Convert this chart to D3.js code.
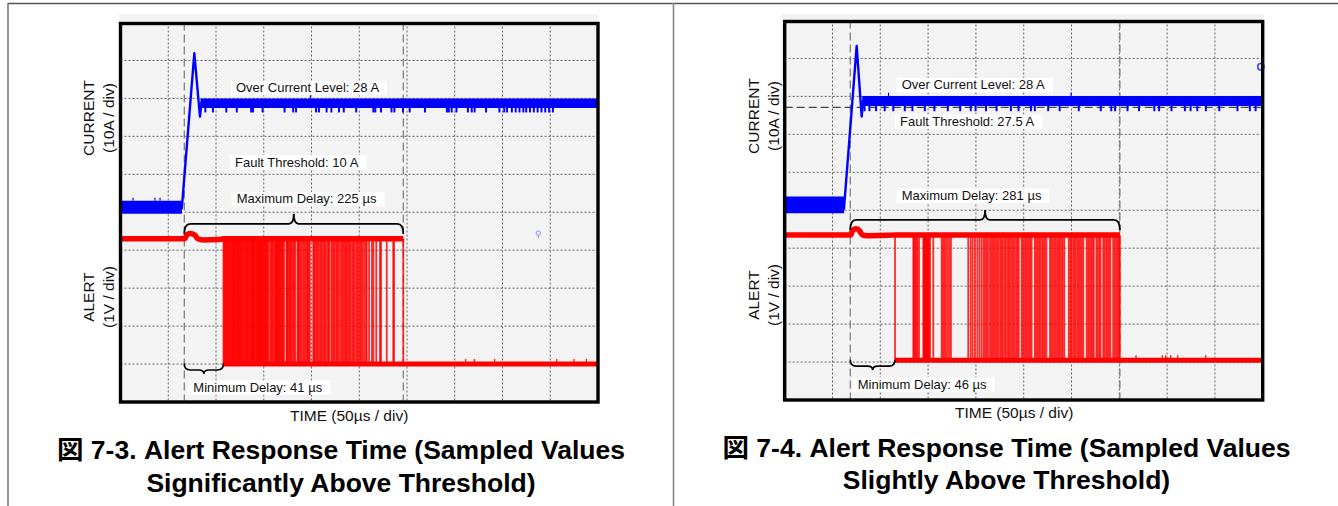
<!DOCTYPE html>
<html><head><meta charset="utf-8">
<script src="https://cdn.jsdelivr.net/npm/d3@7"></script>
<style>
body{margin:0;background:#fff;}
svg{display:block;font-family:"Liberation Sans",Arial,"Noto Sans CJK JP",sans-serif;}
</style>
</head><body>
<svg id="c" width="1338" height="506"></svg>
<script>
// ---------------- DATA ----------------
const captionLeft = ["図 7-3. Alert Response Time (Sampled Values", "Significantly Above Threshold)"];
const captionRight = ["図 7-4. Alert Response Time (Sampled Values", "Slightly Above Threshold)"];
const annotLeft = ["Over Current Level: 28 A", "Fault Threshold: 10 A", "Maximum Delay: 225 µs", "Minimum Delay: 41 µs"];
const annotRight = ["Over Current Level: 28 A", "Fault Threshold: 27.5 A", "Maximum Delay: 281 µs", "Minimum Delay: 46 µs"];
const yLabelCurrent = ["CURRENT", "(10A / div)"];
const yLabelAlert = ["ALERT", "(1V / div)"];
const xLabel = "TIME (50µs / div)";
const gridDivisions = [1, 2, 3, 4, 5, 6, 7, 8, 9];

// current trace, time in µs, current in A
const leftCurT = [-66.8, -2.6, 10.5, 16.4, 18.0, 433.2];
const leftCurA = [0.3, 0.0, 40.9, 24.2, 27.9, 27.9];
const leftPreBandT = [-66.8, -2.4], leftPreBandA = [-1.4, 2.0];
const leftPostBandT = [17.0, 433.2], leftPostBandA = [26.5, 29.0];
const leftCurSpikesDown = [22, 30, 44, 55, 70, 72, 82, 105, 114, 117, 138, 141, 149, 154, 162, 167, 180, 198, 200, 206, 217, 220, 229, 236, 252, 275, 277, 280, 285, 297, 301, 304, 316, 330, 335, 338, 343, 347, 351, 355, 358, 362, 366, 370, 374, 378, 382, 386];
const leftCurSpikesUp = [-53.7, -30.7, -25.4, 132];
const leftSpikeLowA = 25.3, leftSpikeHighA = 29.9, leftPreSpikeA = 2.8;

const rightCurT = [-68.6, -6.6, 6.7, 11.9, 13.5, 431.4];
const rightCurA = [0.0, -1.0, 41.9, 23.3, 27.4, 27.4];
const rightPreBandT = [-68.6, -6.4], rightPreBandA = [-2.2, 2.2];
const rightPostBandT = [12.5, 431.4], rightPostBandA = [26.1, 28.7];
const rightCurSpikesDown = [15, 20, 27, 36, 45, 57, 65, 78, 88, 102, 115, 126, 131, 142, 153, 168, 176, 189, 193, 207, 219, 239, 262, 273, 277, 290, 302, 318, 323, 336, 350, 356, 363, 372, 386, 405, 418, 424];
const rightCurSpikesUp = [40, 231];
const rightSpikeLowA = 24.7, rightSpikeHighA = 29.6;
const rightThresholdA = 25.7;

// ALERT trace, volts
const alertHighV = 3.3, alertLowV = 0;
const leftAlertHighT = [-66.8, 0.5, 2.5, 6.0, 11.0, 14.0, 20.0, 36.0, 41.0];
const leftAlertHighV = [3.3, 3.3, 3.4, 3.44, 3.4, 3.3, 3.27, 3.28, 3.3];
const rightAlertHighT = [-68.6, 0.5, 2.5, 6.0, 10.0, 12.5, 18.0, 40.0, 46.8];
const rightAlertHighV = [3.3, 3.3, 3.42, 3.46, 3.4, 3.3, 3.28, 3.29, 3.3];
const leftAlertEdges = [41, 41.8, 42.6, 43.5, 44.1, 45, 45.6, 46.5, 47.5, 48.2, 49, 50.2, 51, 51.6, 52.4, 53.2, 53.9, 55, 55.7, 56.3, 57.1, 57.9, 58.7, 59.5, 60.2, 61, 62.4, 63.2, 64, 64.8, 66, 66.6, 67.1, 68.5, 69.3, 70, 70.8, 71.5, 72, 72.7, 73.4, 74.1, 75.3, 76.2, 76.8, 77.4, 78, 78.6, 79.2, 79.9, 80.6, 81.3, 82.2, 83, 83.8, 84.6, 85.5, 86.5, 87.2, 88.1, 89.9, 91.2, 92.1, 93, 94.8, 95.4, 96.1, 96.8, 97.5, 98.4, 99.2, 100, 100.7, 101.6, 102.5, 103.4, 104.4, 106.9, 107.6, 108.3, 109.4, 110.5, 111.5, 112.6, 114, 115.1, 116.2, 118.5, 119.3, 120.1, 121.4, 122.7, 124.3, 125.6, 126.9, 128.4, 129.3, 130.2, 131.5, 135, 135.9, 136.8, 138.3, 139.4, 140.6, 142.1, 143.3, 144.5, 146, 147.2, 148.3, 150.1, 150.9, 151.7, 153.9, 155.2, 156.4, 157.6, 159.1, 160.2, 161.3, 163, 164.6, 165.7, 166.8, 168.2, 169.4, 170.5, 172, 173.2, 174.4, 176.1, 177.2, 178.3, 180, 181.3, 182.6, 184.1, 185.4, 186.7, 188.3, 190.2, 191, 193.5, 196.5, 198, 201, 204.9, 206, 212, 218.8, 219.6, 229.3];
const rightAlertEdges = [46.8, 65.9, 66.8, 68, 69.1, 70.2, 71.9, 76.4, 77, 77.6, 78.2, 78.8, 79.4, 80, 80.6, 81.2, 81.8, 82.4, 83.4, 86.8, 95.6, 97, 98.5, 100, 101.8, 103.5, 105.3, 123.4, 126, 128, 130.4, 133, 135.2, 137.4, 139.5, 141, 142.6, 144, 146.1, 147.5, 149, 150.4, 152.1, 153.5, 155, 156.8, 158.2, 159.6, 161.3, 162.7, 164.4, 165.8, 167.1, 168.9, 170.3, 171.8, 173.4, 174.9, 176.2, 179.2, 180.6, 182.3, 183.7, 185.1, 186.8, 188.2, 189.7, 193.1, 194.5, 196.2, 197.6, 199, 200.7, 202.1, 203.6, 205.2, 208.9, 210.3, 211.8, 213.4, 214.8, 216.3, 217.9, 219.2, 220.8, 222.3, 223.9, 228.6, 230.1, 231.5, 233.2, 234.6, 236, 237.7, 239.1, 240.6, 242.2, 243.8, 247.3, 248.8, 250.4, 251.9, 253.5, 254.7, 257.4, 258.9, 260.5, 261.8, 264.6, 266, 267.7, 269.1, 270.6, 272.1, 275, 276.4, 278, 279.5, 281, 282];
const leftAlertLowSpikes = [294.7, 303.7, 325, 390, 408, 421];
const rightAlertLowSpikes = [298.9, 326.4, 329.9, 335.1, 342.5, 371.8];
const alertSpikeV = 0.13;

// scope markers (µs, value)
const leftMarker = {t: 370.7, v: 3.45};
const rightMarker = {t: 429.5, a: 36.4};

// ---------------- LAYOUT ----------------
const svg = d3.select("#c");
const RED = "#ff0000", BLUE = "#0000ff";

// outer frame
svg.append("line").attr("x1", 8).attr("x2", 1338).attr("y1", 3.5).attr("y2", 3.5).attr("stroke", "#555").attr("stroke-width", 1.6);
svg.append("line").attr("x1", 8).attr("x2", 8).attr("y1", 3).attr("y2", 506).attr("stroke", "#777").attr("stroke-width", 1.6);
svg.append("line").attr("x1", 673.5).attr("x2", 673.5).attr("y1", 3).attr("y2", 506).attr("stroke", "#888").attr("stroke-width", 1.6);

function drawPanel(cfg) {
  const g = svg.append("g");
  const x = d3.scaleLinear().domain(cfg.tDomain).range([cfg.x0, cfg.x1]);
  const yA = d3.scaleLinear().domain(cfg.aDomain).range([cfg.y1, cfg.y0]);
  const yV = d3.scaleLinear().domain(cfg.vDomain).range([cfg.y1, cfg.y0]);
  const divX = d3.scaleLinear().domain([0, 10]).range([cfg.x0, cfg.x1]);
  const divY = d3.scaleLinear().domain([0, 10]).range([cfg.y1, cfg.y0]);

  // background
  g.append("rect").attr("x", cfg.bg[0]).attr("y", cfg.bg[1]).attr("width", cfg.bg[2] - cfg.bg[0]).attr("height", cfg.bg[3] - cfg.bg[1]).attr("fill", "#f3f3f3");

  // grid
  const grid = g.append("g").attr("stroke", "#666").attr("stroke-width", 1).attr("stroke-dasharray", "2,2");
  grid.selectAll(".gv").data(gridDivisions).join("line")
    .attr("x1", d => divX(d)).attr("x2", d => divX(d)).attr("y1", cfg.y0).attr("y2", cfg.y1);
  grid.selectAll(".gh").data(gridDivisions).join("line")
    .attr("y1", d => divY(d)).attr("y2", d => divY(d)).attr("x1", cfg.x0).attr("x2", cfg.x1);

  // trigger / max-delay dashed markers
  const lastEdge = cfg.edges[cfg.edges.length - 1];
  const firstEdge = cfg.edges[0];
  g.selectAll(".mk").data([0, lastEdge]).join("line")
    .attr("x1", d => x(d)).attr("x2", d => x(d)).attr("y1", cfg.y0).attr("y2", cfg.y1)
    .attr("stroke", "#777").attr("stroke-width", 1.2).attr("stroke-dasharray", "8,4");

  if (cfg.thresholdA !== undefined) {
    g.append("line").attr("x1", cfg.x0).attr("x2", cfg.x1).attr("y1", yA(cfg.thresholdA)).attr("y2", yA(cfg.thresholdA))
      .attr("stroke", "#444").attr("stroke-width", 1.2).attr("stroke-dasharray", "8,4");
  }

  // ---- current trace ----
  const area = d3.area().x(d => x(d[0])).y0(d => yA(d[1])).y1(d => yA(d[2]));
  g.append("path").datum([[cfg.preBandT[0], cfg.preBandA[0], cfg.preBandA[1]], [cfg.preBandT[1], cfg.preBandA[0], cfg.preBandA[1]]])
    .attr("d", area).attr("fill", BLUE);
  g.append("path").datum([[cfg.postBandT[0], cfg.postBandA[0], cfg.postBandA[1]], [cfg.postBandT[1], cfg.postBandA[0], cfg.postBandA[1]]])
    .attr("d", area).attr("fill", BLUE);
  g.selectAll(".sd").data(cfg.spikesDown).join("line")
    .attr("x1", d => x(d)).attr("x2", d => x(d)).attr("y1", yA(cfg.postBandA[0])).attr("y2", yA(cfg.spikeLowA))
    .attr("stroke", BLUE).attr("stroke-width", 2);
  g.selectAll(".su").data(cfg.spikesUp).join("line")
    .attr("x1", d => x(d)).attr("x2", d => x(d))
    .attr("y1", d => d < 0 ? yA(cfg.preBandA[1]) : yA(cfg.postBandA[1]))
    .attr("y2", d => d < 0 ? yA(cfg.preSpikeA) : yA(cfg.spikeHighA))
    .attr("stroke", BLUE).attr("stroke-width", 1.2);
  const line = d3.line().x(d => x(d[0])).y(d => yA(d[1]));
  g.append("path").datum(d3.zip(cfg.curT, cfg.curA)).attr("d", line)
    .attr("fill", "none").attr("stroke", BLUE).attr("stroke-width", 2.4).attr("stroke-linejoin", "round");

  // ---- alert trace ----
  g.selectAll(".ed").data(cfg.edges).join("line")
    .attr("x1", d => x(d)).attr("x2", d => x(d)).attr("y1", yV(alertHighV)).attr("y2", yV(alertLowV))
    .attr("stroke", RED).attr("stroke-width", 1.8).attr("stroke-opacity", 0.82);
  const vLine = d3.line().x(d => x(d[0])).y(d => yV(d[1])).curve(d3.curveMonotoneX);
  const highPts = d3.zip(cfg.highT, cfg.highV).concat([[lastEdge, alertHighV]]);
  g.append("path").datum(highPts).attr("d", vLine).attr("fill", "none").attr("stroke", RED).attr("stroke-width", 5.5);
  g.append("path").datum([[firstEdge, alertLowV], [cfg.tDomain[1], alertLowV]]).attr("d", vLine)
    .attr("fill", "none").attr("stroke", RED).attr("stroke-width", 5);
  g.selectAll(".ls").data(cfg.lowSpikes).join("line")
    .attr("x1", d => x(d)).attr("x2", d => x(d)).attr("y1", yV(alertLowV)).attr("y2", yV(alertLowV + alertSpikeV))
    .attr("stroke", RED).attr("stroke-width", 1.2);

  // markers
  if (cfg.markerV) {
    g.append("circle").attr("cx", x(cfg.markerV.t)).attr("cy", yV(cfg.markerV.v)).attr("r", 2.2)
      .attr("fill", "none").attr("stroke", "#8c8cff").attr("stroke-width", 1);
    g.append("line").attr("x1", x(cfg.markerV.t)).attr("x2", x(cfg.markerV.t)).attr("y1", yV(cfg.markerV.v) + 2).attr("y2", yV(cfg.markerV.v) + 5)
      .attr("stroke", "#8c8cff").attr("stroke-width", 1);
  }
  if (cfg.markerA) {
    g.append("circle").attr("cx", x(cfg.markerA.t)).attr("cy", yA(cfg.markerA.a)).attr("r", 3.2)
      .attr("fill", "none").attr("stroke", "#3a3aff").attr("stroke-width", 1.5);
  }

  // plot border
  g.append("rect").attr("x", cfg.x0).attr("y", cfg.y0 + 1).attr("width", cfg.x1 - cfg.x0).attr("height", cfg.y1 - cfg.y0 - 1)
    .attr("fill", "none").attr("stroke", "#000").attr("stroke-width", 3.4);

  // braces
  function brace(xa, xb, yEnd, yLine, yTip) {
    const xm = (xa + xb) / 2, r = 6, r2 = 5;
    return `M${xa},${yEnd} Q${xa},${yLine} ${xa + r},${yLine} L${xm - r2},${yLine} Q${xm},${yLine} ${xm},${yTip} ` +
           `Q${xm},${yLine} ${xm + r2},${yLine} L${xb - r},${yLine} Q${xb},${yLine} ${xb},${yEnd}`;
  }
  const yHi = yV(alertHighV), yLo = yV(alertLowV);
  g.append("path").attr("d", brace(x(0), x(lastEdge), yHi - 5, yHi - 15, yHi - 25))
    .attr("fill", "none").attr("stroke", "#000").attr("stroke-width", 1.8);
  g.append("path").attr("d", brace(x(0), x(firstEdge), yLo - 0.5, yLo + 6, yLo + 10))
    .attr("fill", "none").attr("stroke", "#000").attr("stroke-width", 1.6);

  // annotations with white boxes
  cfg.annot.forEach((txt, i) => {
    const p = cfg.annotPos[i];
    const t = g.append("text").attr("x", p[0]).attr("y", p[1]).attr("font-size", 13).attr("fill", "#111").text(txt);
    const w = t.node().getComputedTextLength();
    g.insert("rect", () => t.node()).attr("x", p[0] - 5).attr("y", p[1] - 11.4).attr("width", w + 13).attr("height", 14.4).attr("fill", "#fff");
  });

  // axis titles
  const ya = cfg.yLabelX;
  [[yLabelCurrent, cfg.curLabelY], [yLabelAlert, cfg.alertLabelY]].forEach(([lbl, cy]) => {
    g.append("text").attr("transform", `translate(${ya[0]},${cy}) rotate(-90)`).attr("text-anchor", "middle")
      .attr("font-size", 15.5).attr("fill", "#111").text(lbl[0]);
    g.append("text").attr("transform", `translate(${ya[1]},${cy}) rotate(-90)`).attr("text-anchor", "middle")
      .attr("font-size", 15.5).attr("fill", "#111").text(lbl[1]);
  });
  g.append("text").attr("x", cfg.xLabelPos[0]).attr("y", cfg.xLabelPos[1]).attr("font-size", 15.5).attr("fill", "#111").text(xLabel);

  // caption
  cfg.caption.forEach((c, i) => {
    g.append("text").attr("x", cfg.capX).attr("y", cfg.capY[i]).attr("text-anchor", "middle")
      .attr("font-size", 26.5).attr("font-weight", "bold").attr("fill", "#000").text(c);
  });
}

drawPanel({
  x0: 120.5, x1: 598, y0: 22.5, y1: 402, bg: [119, 14, 599, 404],
  tDomain: [-66.8, 433.2], aDomain: [-51, 49], vDomain: [-1, 9],
  curT: leftCurT, curA: leftCurA, preBandT: leftPreBandT, preBandA: leftPreBandA,
  postBandT: leftPostBandT, postBandA: leftPostBandA,
  spikesDown: leftCurSpikesDown, spikesUp: leftCurSpikesUp, spikeLowA: leftSpikeLowA, spikeHighA: leftSpikeHighA, preSpikeA: leftPreSpikeA,
  highT: leftAlertHighT, highV: leftAlertHighV, edges: leftAlertEdges, lowSpikes: leftAlertLowSpikes,
  markerV: leftMarker,
  annot: annotLeft, annotPos: [[236, 92.3], [235, 166.5], [236.7, 203.3], [193.3, 391.7]],
  yLabelX: [94, 113.5], curLabelY: 118, alertLabelY: 297, xLabelPos: [290, 421],
  caption: captionLeft, capX: 341, capY: [459, 491.5]
});

drawPanel({
  x0: 784.7, x1: 1262.7, y0: 20.5, y1: 400, bg: [781, 14, 1264, 402],
  tDomain: [-68.6, 431.4], aDomain: [-51.4, 48.6], vDomain: [-1.05, 8.95],
  curT: rightCurT, curA: rightCurA, preBandT: rightPreBandT, preBandA: rightPreBandA,
  postBandT: rightPostBandT, postBandA: rightPostBandA,
  spikesDown: rightCurSpikesDown, spikesUp: rightCurSpikesUp, spikeLowA: rightSpikeLowA, spikeHighA: rightSpikeHighA, preSpikeA: 2.5,
  thresholdA: rightThresholdA,
  highT: rightAlertHighT, highV: rightAlertHighV, edges: rightAlertEdges, lowSpikes: rightAlertLowSpikes,
  markerA: rightMarker,
  annot: annotRight, annotPos: [[901.7, 89.3], [900, 125.7], [901.7, 200], [857.7, 388.7]],
  yLabelX: [759, 779], curLabelY: 116, alertLabelY: 295, xLabelPos: [955, 418.3],
  caption: captionRight, capX: 1006.5, capY: [457, 489]
});
</script>
</body></html>
